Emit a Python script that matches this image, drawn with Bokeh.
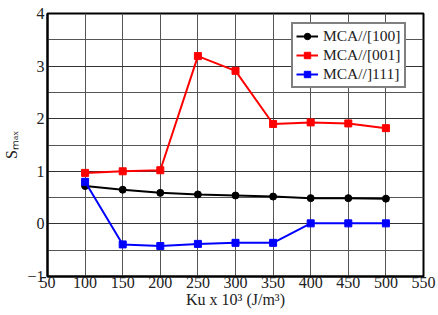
from bokeh.plotting import figure
from bokeh.models import Range1d, FixedTicker, Legend, LegendItem
from bokeh.embed import file_html
from bokeh.resources import INLINE

ku = [100, 150, 200, 250, 300, 350, 400, 450, 500]
mca_100 = [0.72, 0.65, 0.59, 0.56, 0.54, 0.52, 0.49, 0.49, 0.48]
mca_001 = [0.97, 1.00, 1.02, 3.19, 2.91, 1.90, 1.93, 1.91, 1.82]
mca_111 = [0.80, -0.39, -0.42, -0.38, -0.36, -0.36, 0.01, 0.01, 0.01]
x_ticks = [50, 100, 150, 200, 250, 300, 350, 400, 450, 500, 550]
y_ticks = [-1, 0, 1, 2, 3, 4]
names = ["MCA//[100]", "MCA//[001]", "MCA//]111]"]

FONT = "Liberation Serif"

p = figure(width=438, height=315, output_backend="svg", toolbar_location=None,
           x_range=Range1d(50, 550), y_range=Range1d(-1, 4),
           min_border_left=47, min_border_right=15, min_border_top=13, min_border_bottom=39)
p.background_fill_color = "white"
p.border_fill_color = "white"
p.outline_line_color = "black"
p.outline_line_width = 2

p.xaxis.ticker = FixedTicker(ticks=x_ticks)
p.yaxis.ticker = FixedTicker(ticks=y_ticks, minor_ticks=[-0.5, 0.5, 1.5, 2.5, 3.5])
for ax in (p.xaxis[0], p.yaxis[0]):
    ax.major_tick_out = 0
    ax.major_tick_in = 0
    ax.minor_tick_out = 0
    ax.minor_tick_in = 0
    ax.axis_line_width = 2
    ax.axis_line_color = "black"
    ax.major_label_text_font = FONT
    ax.major_label_text_font_size = "16px"
    ax.major_label_text_color = "#222222"
    ax.axis_label_text_font = FONT
    ax.axis_label_text_font_size = "16px"
    ax.axis_label_text_font_style = "normal"
    ax.axis_label_text_color = "#222222"
p.xaxis.major_label_standoff = 0
p.yaxis.major_label_standoff = 3
p.xaxis.axis_label = "Ku x 10³ (J/m³)"
p.xaxis.axis_label_standoff = 0
p.yaxis.axis_label = "Sₘₐₓ"
p.yaxis.axis_label_standoff = 4

p.xgrid.grid_line_color = "#555555"
p.xgrid.grid_line_width = 1
p.ygrid.grid_line_color = "#333333"
p.ygrid.grid_line_width = 1
p.ygrid.minor_grid_line_color = "#555555"
p.ygrid.minor_grid_line_width = 1

l1 = p.line(ku, mca_100, line_color="black", line_width=2)
m1 = p.scatter(ku, mca_100, marker="circle", size=7, fill_color="black", line_color="black")
l2 = p.line(ku, mca_001, line_color="red", line_width=2)
m2 = p.scatter(ku, mca_001, marker="square", size=7, fill_color="red", line_color="red")
l3 = p.line(ku, mca_111, line_color="blue", line_width=2)
m3 = p.scatter(ku, mca_111, marker="square", size=7, fill_color="blue", line_color="blue")

legend = Legend(items=[LegendItem(label=names[0], renderers=[l1, m1]),
                       LegendItem(label=names[1], renderers=[l2, m2]),
                       LegendItem(label=names[2], renderers=[l3, m3])],
                location=(244, 188))
legend.border_line_color = "black"
legend.border_line_width = 2
legend.label_text_font = FONT
legend.label_text_font_size = "15.5px"
legend.label_text_color = "#222222"
legend.glyph_width = 22
legend.glyph_height = 16
legend.label_height = 16
legend.spacing = 1
legend.padding = 3
legend.margin = 0
legend.label_standoff = 5
legend.background_fill_alpha = 1
p.add_layout(legend)

open("out.html", "w").write(file_html(p, INLINE))
